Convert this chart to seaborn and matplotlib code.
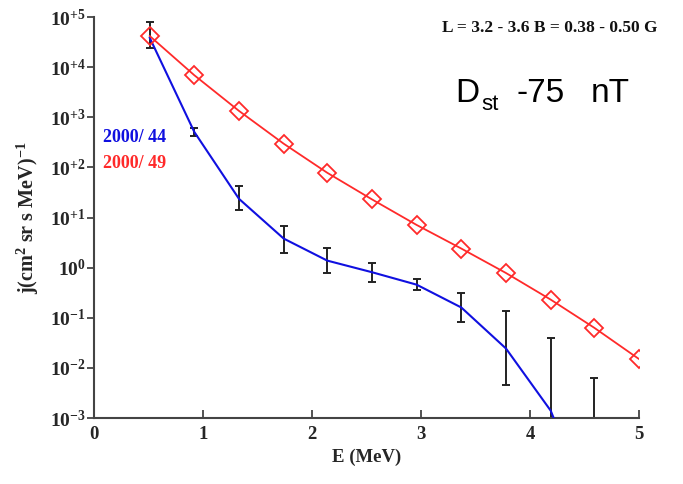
import numpy as np
import pandas as pd
import matplotlib
matplotlib.use("Agg")
import matplotlib.pyplot as plt
import seaborn as sns

# ---- data ----
energy = [0.51, 0.92, 1.33, 1.74, 2.14, 2.55, 2.96, 3.37, 3.78, 4.19, 4.59, 5.0]
flux_49 = [4.2e4, 6.9e3, 1.34e3, 297, 78, 23, 7.1, 2.4, 0.78, 0.23, 0.063, 0.015]

energy_44 = [0.51, 0.92, 1.33, 1.74, 2.14, 2.55, 2.96, 3.37, 3.78, 4.19, 4.59]
flux_44 = [3.9e4, 510, 23.6, 3.8, 1.38, 0.81, 0.457, 0.16, 0.0243, 0.0014, 1e-5]
err_hi_44 = [7.8e4, 620, 42, 6.9, 2.5, 1.24, 0.58, 0.31, 0.138, 0.039, 0.0063]
err_lo_44 = [2.4e4, 417, 13.8, 2.0, 0.77, 0.52, 0.358, 0.084, 0.0046, 1e-6, 1e-6]

ytick_vals = [1e-3, 1e-2, 1e-1, 1e0, 1e1, 1e2, 1e3, 1e4, 1e5]
ytick_labels = [r"$10^{-3}$", r"$10^{-2}$", r"$10^{-1}$", r"$10^{0}$", r"$10^{+1}$",
                r"$10^{+2}$", r"$10^{+3}$", r"$10^{+4}$", r"$10^{+5}$"]
xtick_vals = [0, 1, 2, 3, 4, 5]

df49 = pd.DataFrame({"E": energy, "j": flux_49})
df44 = pd.DataFrame({"E": energy_44, "j": flux_44, "hi": err_hi_44, "lo": err_lo_44})

sns.set_style("white")
plt.rcParams["font.family"] = ["Liberation Serif", "DejaVu Serif"]
plt.rcParams["font.weight"] = "bold"
plt.rcParams["mathtext.fontset"] = "custom"
plt.rcParams["mathtext.rm"] = "Liberation Serif:bold"
plt.rcParams["mathtext.it"] = "Liberation Serif:bold"
plt.rcParams["mathtext.bf"] = "Liberation Serif:bold"
plt.rcParams["mathtext.default"] = "rm"

W, H = 683, 484
fig = plt.figure(figsize=(W / 100, H / 100), dpi=100)
ax = fig.add_axes([94 / W, 1 - 418 / H, (639 - 94) / W, (418 - 17) / H])

BLUE = "#1010e0"
RED = "#ff2a2a"

# error bars for 2000/44
yerr = np.array([df44["j"] - df44["lo"], df44["hi"] - df44["j"]])
ax.errorbar(df44["E"], df44["j"], yerr=yerr, fmt="none", ecolor="#222222",
            elinewidth=1.4, capsize=3, capthick=1.4, zorder=2)

sns.lineplot(data=df44, x="E", y="j", ax=ax, color=BLUE, lw=1.5, zorder=3)
sns.lineplot(data=df49, x="E", y="j", ax=ax, color=RED, lw=1.3, marker="D",
             markersize=9, markerfacecolor="none", markeredgecolor=RED,
             markeredgewidth=1.3, zorder=4)

ax.set_yscale("log")
ax.set_xlim(0, 5)
ax.set_ylim(1e-3, 1e5)
ax.set_yticks(ytick_vals)
ax.set_yticklabels(ytick_labels)
ax.minorticks_off()
ax.set_xticks(xtick_vals)
ax.set_xticklabels([str(v) for v in xtick_vals])
ax.tick_params(axis="y", direction="out", length=5, width=1.3, color="#444444",
               labelsize=14, pad=1, left=True)
ax.tick_params(axis="x", direction="in", length=6, width=1.3, color="#444444",
               labelsize=13.5, pad=6, bottom=True)
for lab in ax.get_xticklabels() + ax.get_yticklabels():
    lab.set_fontweight("bold")

for s in ["top", "right"]:
    ax.spines[s].set_visible(False)
for s in ["left", "bottom"]:
    ax.spines[s].set_color("#444444")
    ax.spines[s].set_linewidth(1.5)

ax.set_xlabel("E (MeV)", fontsize=13.5, fontweight="bold", labelpad=4)
ax.set_ylabel(r"j(cm$^{2}$ sr s MeV)$^{-1}$", fontsize=14.5, fontweight="bold", labelpad=6)

def px(x, y):
    return x / W, 1 - y / H

fig.text(*px(103, 138), "2000/ 44", color=BLUE, fontsize=13, fontweight="bold",
         va="center", ha="left")
fig.text(*px(103, 163), "2000/ 49", color=RED, fontsize=13, fontweight="bold",
         va="center", ha="left")
fig.text(*px(658, 28), "L = 3.2 - 3.6 B = 0.38 - 0.50 G", color="#111111",
         fontsize=12.5, fontweight="bold", va="center", ha="right")

sans = ["Liberation Sans", "DejaVu Sans"]
fig.text(*px(455, 102), "D", color="black", fontsize=24, family=sans,
         fontweight="normal", va="baseline", ha="left")
fig.text(*px(481, 110), "st", color="black", fontsize=16, family=sans,
         fontweight="normal", va="baseline", ha="left")
fig.text(*px(517, 102), "-75", color="black", fontsize=24, family=sans,
         fontweight="normal", va="baseline", ha="left")
fig.text(*px(591, 102), "nT", color="black", fontsize=24, family=sans,
         fontweight="normal", va="baseline", ha="left")

fig.savefig("out.png", dpi=100)
